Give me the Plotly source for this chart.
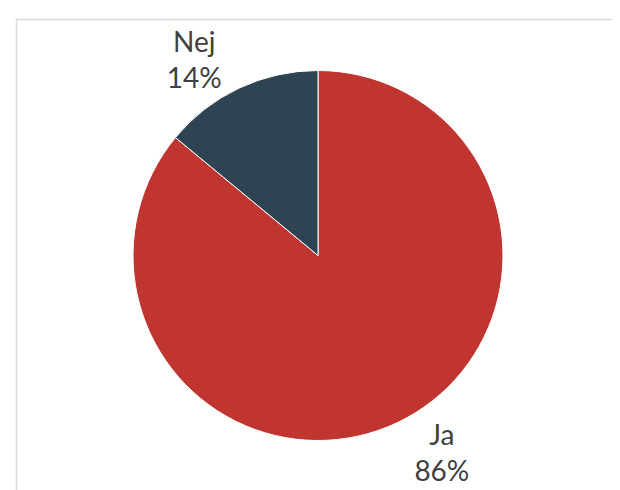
import plotly.graph_objects as go

labels = ["Ja", "Nej"]
values = [86, 14]
colors = ["#c0352f", "#2e4453"]

W, H = 620, 490
L, R, T, B = 125, 125, 61, 56
pw, ph = W - L - R, H - T - B

def px_x(x):
    return (x - L) / pw

def px_y(y):
    return 1 - (y - T) / ph

fig = go.Figure(go.Pie(
    labels=labels,
    values=values,
    sort=False,
    direction="clockwise",
    rotation=0,
    marker=dict(colors=colors, line=dict(color="white", width=1)),
    texttemplate="%{label}<br>%{percent:.0%}",
    textposition="outside",
    textfont=dict(family="Lato", size=28, color="#404040"),
    showlegend=False,
    hoverinfo="label+percent",
))

fig.update_layout(
    width=W, height=H,
    margin=dict(l=L, r=R, t=T, b=B),
    paper_bgcolor="white",
    plot_bgcolor="white",
    shapes=[
        dict(type="line", xref="paper", yref="paper",
             x0=px_x(8), x1=px_x(640), y0=px_y(11.5), y1=px_y(11.5),
             line=dict(color="#d9d9d9", width=1.5)),
        dict(type="line", xref="paper", yref="paper",
             x0=px_x(8.5), x1=px_x(8.5), y0=px_y(11.5), y1=px_y(500),
             line=dict(color="#d9d9d9", width=1.5)),
    ],
)

fig.write_html("out.html")
